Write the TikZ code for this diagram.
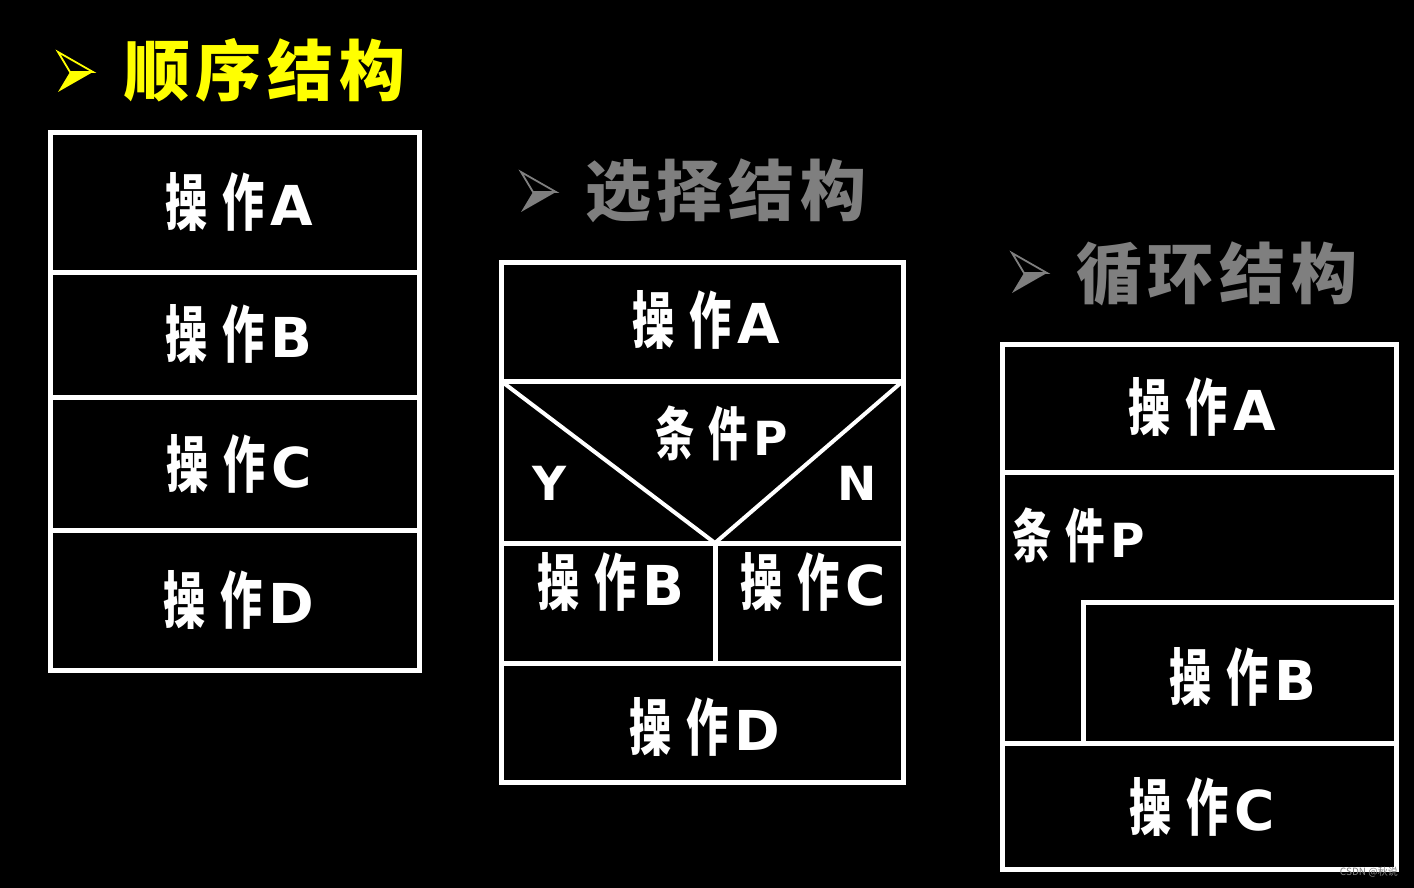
\documentclass[tikz,border=0pt]{standalone}
\usepackage{fontspec}
\usepackage{graphicx}
\newfontfamily\cjk{Noto Sans CJK SC}
\newfontfamily\lat[BoldFont={DejaVu Sans Bold}]{DejaVu Sans}
\definecolor{titlegray}{HTML}{7F7F7F}
\definecolor{titleyellow}{HTML}{FFFF00}
\newcommand\czh[2]{\scalebox{0.68}[1]{\fontsize{#2}{#2}\cjk\bfseries #1}}
\newcommand\opl[1]{\czh{操}{62pt}\hspace{15pt}\czh{作}{62pt}\hspace{6pt}{\fontsize{55pt}{55pt}\lat\bfseries #1}}
\newcommand\cond{\czh{条}{58pt}\hspace{13pt}\czh{件}{58pt}\hspace{6pt}{\fontsize{47pt}{47pt}\lat\bfseries P}}
\newcommand\ttext[4]{{\fontsize{66pt}{66pt}\cjk\bfseries #1\hspace{6pt}#2\hspace{6pt}#3\hspace{6pt}#4}}
\begin{document}
\begin{tikzpicture}[x=1pt,y=-1pt,
  frame/.style={draw=white,line width=5pt},
  lbl/.style={text=white,inner sep=0pt,anchor=base},
  yn/.style={text=white,inner sep=0pt,anchor=base,font=\fontsize{47pt}{47pt}\lat\bfseries},
  ttl/.style={inner sep=0pt,anchor=center},
  tarrow/.pic={
    \fill (12,20) -- (35,20) -- (0,40) -- cycle;
    \draw[line width=1.8pt,line join=miter] (0,0) -- (35,20) -- (12,20) -- cycle;
  }]
\fill[black] (0,0) rectangle (1414,888);
\useasboundingbox (0,0) rectangle (1414,888);

% ---- titles
\pic[fill=titleyellow,draw=titleyellow] at (58,52) {tarrow};
\node[ttl,text=titleyellow] (t1) at (265,70) {\ttext{顺}{序}{结}{构}};
\pic[fill=titlegray,draw=titlegray] at (521,172) {tarrow};
\node[ttl,text=titlegray] (t2) at (726,191) {\ttext{选}{择}{结}{构}};
\pic[fill=titlegray,draw=titlegray] at (1012,253) {tarrow};
\node[ttl,text=titlegray] (t3) at (1217,274) {\ttext{循}{环}{结}{构}};

% ---- sequence structure
\draw[frame] (50,133) rectangle (419,670);
\draw[frame] (50,272) -- (419,272);
\draw[frame] (50,397) -- (419,397);
\draw[frame] (50,530) -- (419,530);
\node[lbl] (sA) at (239,225) {\opl{A}};
\node[lbl] (sB) at (239,357) {\opl{B}};
\node[lbl] (sC) at (239,487) {\opl{C}};
\node[lbl] (sD) at (239,623) {\opl{D}};

% ---- selection structure
\draw[frame] (501,262) rectangle (903,782);
\draw[frame] (501,381) -- (903,381);
\draw[frame] (501,543) -- (903,543);
\draw[frame] (501,663) -- (903,663);
\draw[frame] (715,543) -- (715,663);
\draw[frame,line width=4pt] (501,381) -- (715,543) -- (903,381);
\node[lbl] (xA) at (706,343) {\opl{A}};
\node[lbl] (xP) at (722,455) {\cond};
\node[yn] (xY) at (550,500) {Y};
\node[yn] (xN) at (857,500) {N};
\node[lbl] (xB) at (611,605) {\opl{B}};
\node[lbl] (xC) at (813,605) {\opl{C}};
\node[lbl] (xD) at (705,750) {\opl{D}};

% ---- loop structure
\draw[frame] (1002,344) rectangle (1396,869);
\draw[frame] (1002,472) -- (1396,472);
\draw[frame] (1083,743) -- (1083,602) -- (1396,602);
\draw[frame] (1002,743) -- (1396,743);
\node[lbl] (lA) at (1202,430) {\opl{A}};
\node[lbl] (lP) at (1079,557) {\cond};
\node[lbl] (lB) at (1243,700) {\opl{B}};
\node[lbl] (lC) at (1202,830) {\opl{C}};

% ---- watermark
\node[inner sep=0pt,anchor=east,text=gray,font=\fontsize{10pt}{10pt}\cjk] (wm) at (1398,872) {CSDN @秋说};
\end{tikzpicture}
\end{document}
